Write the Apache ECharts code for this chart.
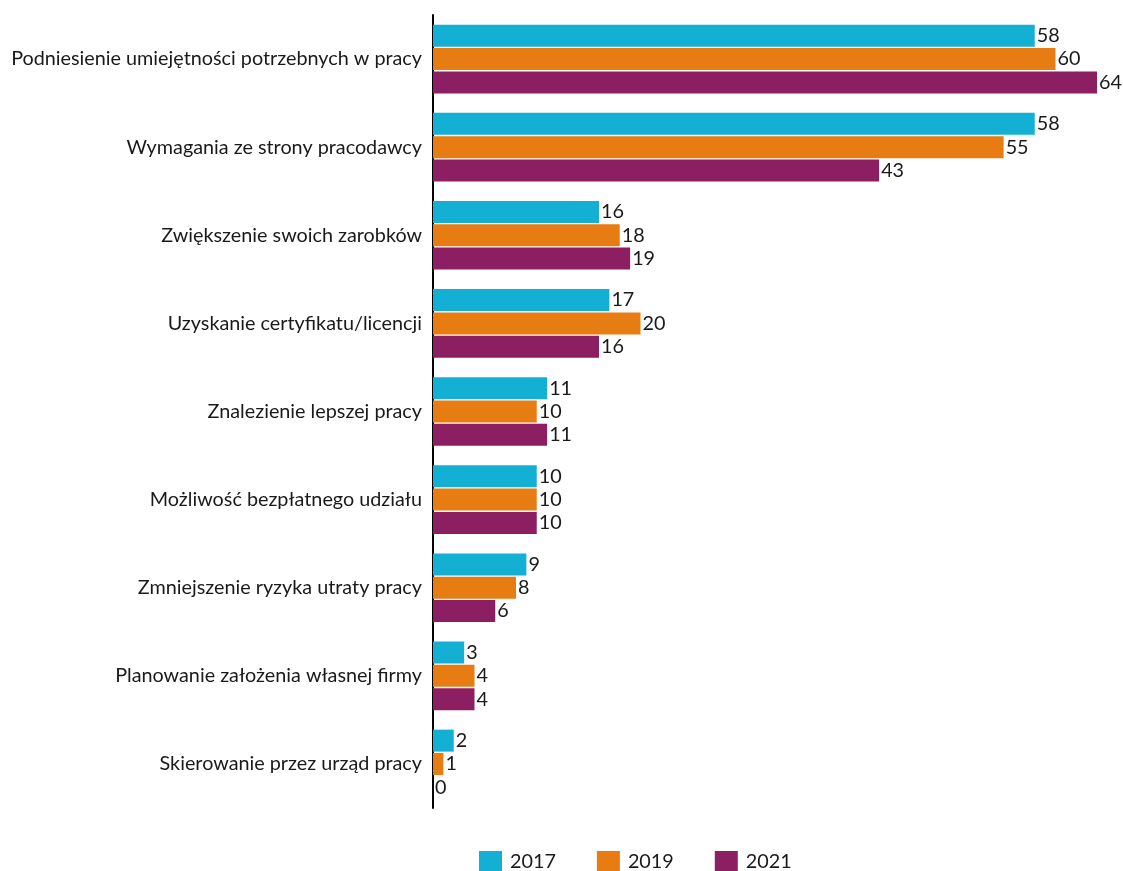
<!DOCTYPE html>
<html>
<head>
<meta charset="utf-8">
<script src="https://cdn.jsdelivr.net/npm/echarts@6/dist/echarts.min.js"></script>
<style>
  html, body { margin: 0; padding: 0; background: #fff; }
  #chart { width: 1123px; height: 871px; }
</style>
</head>
<body>
<div id="chart"></div>
<script>
// Reasons for taking part in training (%), by survey year
const categories = [
  'Podniesienie umiejętności potrzebnych w pracy',
  'Wymagania ze strony pracodawcy',
  'Zwiększenie swoich zarobków',
  'Uzyskanie certyfikatu/licencji',
  'Znalezienie lepszej pracy',
  'Możliwość bezpłatnego udziału',
  'Zmniejszenie ryzyka utraty pracy',
  'Planowanie założenia własnej firmy',
  'Skierowanie przez urząd pracy'
];
const years = ['2017', '2019', '2021'];
const values2017 = [58, 58, 16, 17, 11, 10, 9, 3, 2];
const values2019 = [60, 55, 18, 20, 10, 10, 8, 4, 1];
const values2021 = [64, 43, 19, 16, 11, 10, 6, 4, 0];
const colors = ['#13B0D3', '#E67C12', '#8C1F61'];

const font = 'Lato, Open Sans, sans-serif';
const fontSize = 19.8;
const seriesData = [values2017, values2019, values2021];

const chart = echarts.init(document.getElementById('chart'));
chart.setOption({
  animation: false,
  color: colors,
  legend: {
    top: 846,
    left: 474,
    itemWidth: 23,
    itemHeight: 22,
    itemGap: 41,
    icon: 'rect',
    textStyle: { fontFamily: font, fontSize: fontSize, color: '#1a1a1a', padding: [0, 0, 0, 3] },
    data: years
  },
  grid: { left: 433, right: 26, top: 15, bottom: 63 },
  xAxis: {
    type: 'value',
    min: 0,
    max: 64,
    show: false
  },
  yAxis: {
    type: 'category',
    inverse: true,
    data: categories,
    axisLine: { show: true, lineStyle: { color: '#000', width: 2 } },
    axisTick: { show: false },
    axisLabel: { fontFamily: font, fontSize: fontSize, color: '#1a1a1a', margin: 11 }
  },
  series: years.map((y, i) => ({
    name: y,
    type: 'bar',
    data: seriesData[i],
    barWidth: 22,
    barGap: '6%',
    label: {
      show: true,
      position: 'right',
      distance: 2,
      fontFamily: font,
      fontSize: fontSize,
      color: '#1a1a1a'
    }
  }))
});
</script>
</body>
</html>
